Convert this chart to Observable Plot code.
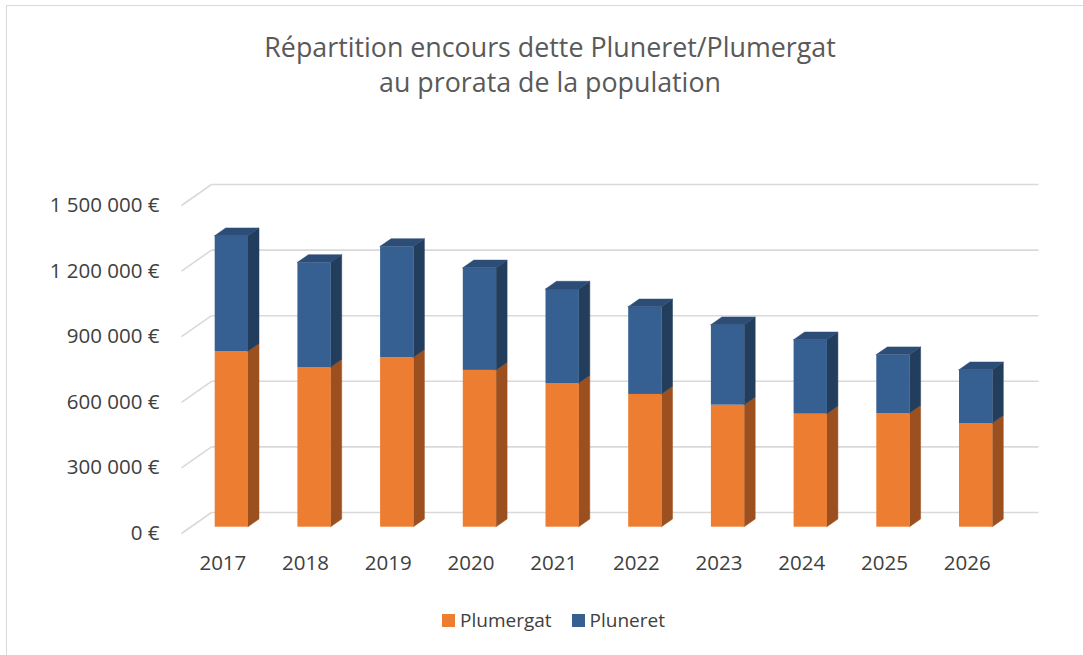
<!DOCTYPE html>
<html>
<head>
<meta charset="utf-8">
<script src="https://cdn.jsdelivr.net/npm/d3@7"></script>
<script src="https://cdn.jsdelivr.net/npm/@observablehq/plot@0.6"></script>
<style>
  html, body { margin: 0; padding: 0; background: #fff; }
  #wrap { position: relative; width: 1083px; height: 655px; overflow: hidden; font-family: "Open Sans", sans-serif; }
  #border { position: absolute; left: 6px; top: 5px; width: 1200px; height: 800px; border: 1.5px solid #d9d9d9; box-sizing: border-box; }
  #title { position: absolute; left: 50px; width: 1000px; top: 29px; text-align: center; font-size: 26.8px; line-height: 35px; color: #595959; }
  #chart { position: absolute; left: 0; top: 0; }
  #legend { position: absolute; top: 607px; left: 442px; font-size: 19px; color: #404040; display: flex; align-items: center; white-space: nowrap; }
  #legend .sw { display: inline-block; width: 13px; height: 13px; margin-right: 5px; }
  #legend .item { display: flex; align-items: center; margin-right: 20px; }
</style>
</head>
<body>
<div id="wrap">
  <div id="border"></div>
  <div id="title">Répartition encours dette Pluneret/Plumergat<br>au prorata de la population</div>
  <div id="chart"></div>
  <div id="legend"></div>
</div>
<script>
// ---- Data ----
const years = [2017, 2018, 2019, 2020, 2021, 2022, 2023, 2024, 2025, 2026];
const plumergat = [803000, 730000, 775000, 717000, 657000, 607000, 558000, 517000, 520000, 474000];
const pluneret  = [528000, 479000, 507000, 467000, 430000, 399000, 366000, 338000, 267000, 244000];
const seriesNames = ["Plumergat", "Pluneret"];
const yTicks = [0, 300000, 600000, 900000, 1200000, 1500000];

// ---- Styles ----
const colors = {
  Plumergat: {front: "#ed7d31", side: "#9c501f", top: "#b55e25"},
  Pluneret:  {front: "#376092", side: "#233d5d", top: "#2c4d76"}
};
const gridColor = "#d9d9d9";
const textColor = "#404040";

// ---- Geometry ----
const W = 1083, H = 655;
const plotLeft = 181, plotRight = 1008, plotTop = 205, plotBottom = 533;
const yMax = 1500000;
const pxX = (plotRight - plotLeft) / years.length;
const pxY = (plotBottom - plotTop) / yMax;
const hx = p => p / pxX, hy = p => p / pxY;
const wallDX = hx(30), wallDY = hy(21);     // floor depth
const barW = hx(33.3), ox = hx(9), oy = hy(6.3); // bar front face
const bx = hx(11), by = hy(7.7);            // bar depth

const fronts = [], sides = [], tops = [];
years.forEach((yr, i) => {
  const x1 = i + 0.5 - barW / 2 + ox, x2 = x1 + barW;
  const segs = [
    {s: "Plumergat", b: 0, t: plumergat[i]},
    {s: "Pluneret", b: plumergat[i], t: plumergat[i] + pluneret[i]}
  ];
  segs.forEach(g => {
    fronts.push({s: g.s, x1, x2, y1: g.b + oy, y2: g.t + oy});
    const id = yr + g.s;
    sides.push({id, s: g.s, x: x2, lo: g.b + oy, hi: g.t + oy});
    sides.push({id, s: g.s, x: x2 + bx, lo: g.b + oy + by, hi: g.t + oy + by});
  });
  const t = plumergat[i] + pluneret[i] + oy;
  const id = yr + "top";
  tops.push({id, x: x1, lo: t, hi: t});
  tops.push({id, x: x1 + bx, lo: t, hi: t + by});
  tops.push({id, x: x2, lo: t, hi: t + by});
  tops.push({id, x: x2 + bx, lo: t + by, hi: t + by});
});

const fmt = d => String(d).replace(/\B(?=(\d{3})+(?!\d))/g, " ") + " €";

const marks = [
  // back wall gridlines
  Plot.link(yTicks, {x1: () => wallDX, x2: () => years.length + wallDX, y1: d => d + wallDY, y2: d => d + wallDY, stroke: gridColor, strokeWidth: 1.6}),
  // left side wall diagonals
  Plot.link(yTicks, {x1: () => 0, x2: () => wallDX, y1: d => d, y2: d => d + wallDY, stroke: gridColor, strokeWidth: 1.6}),
];
for (const s of seriesNames) {
  marks.push(Plot.area(sides.filter(d => d.s === s), {x1: "x", y1: "lo", y2: "hi", z: "id", fill: colors[s].side, stroke: colors[s].side, strokeWidth: 0.5}));
  marks.push(Plot.rect(fronts.filter(d => d.s === s), {x1: "x1", x2: "x2", y1: "y1", y2: "y2", fill: colors[s].front}));
}
marks.push(Plot.area(tops, {x1: "x", y1: "lo", y2: "hi", z: "id", fill: colors.Pluneret.top, stroke: colors.Pluneret.top, strokeWidth: 0.5}));
marks.push(Plot.axisY({ticks: yTicks, tickFormat: fmt, tickSize: 0, tickPadding: 22, fontSize: 20.5, anchor: "left", label: null}));
marks.push(Plot.axisX({ticks: years.map((d, i) => i + 0.5), tickFormat: d => String(years[Math.floor(d)]), tickSize: 0, tickPadding: 22, fontSize: 20.5, anchor: "bottom", label: null}));

const chart = Plot.plot({
  width: W, height: H,
  marginLeft: plotLeft, marginRight: W - plotRight, marginTop: plotTop, marginBottom: H - plotBottom,
  x: {domain: [0, years.length]},
  y: {domain: [0, yMax]},
  style: {fontFamily: "Open Sans, sans-serif", color: textColor, background: "transparent", overflow: "visible"},
  marks
});
document.getElementById("chart").appendChild(chart);

const legend = document.getElementById("legend");
seriesNames.forEach(s => {
  const it = document.createElement("div");
  it.className = "item";
  it.innerHTML = `<span class="sw" style="background:${colors[s].front}"></span><span>${s}</span>`;
  legend.appendChild(it);
});
</script>
</body>
</html>
